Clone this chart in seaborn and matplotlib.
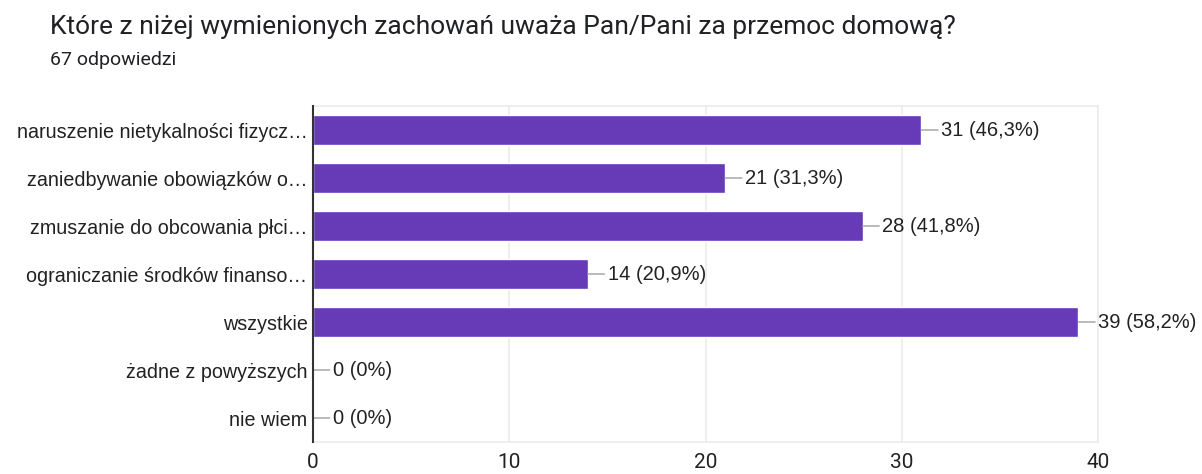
import matplotlib
matplotlib.use("Agg")
import matplotlib.pyplot as plt
import seaborn as sns
import pandas as pd

categories = [
    "naruszenie nietykalności fizycz…",
    "zaniedbywanie obowiązków o…",
    "zmuszanie do obcowania płci…",
    "ograniczanie środków finanso…",
    "wszystkie",
    "żadne z powyższych",
    "nie wiem",
]
counts = [31, 21, 28, 14, 39, 0, 0]
percent_labels = ["46,3%", "31,3%", "41,8%", "20,9%", "58,2%", "0%", "0%"]
xticks = [0, 10, 20, 30, 40]

title = "Które z niżej wymienionych zachowań uważa Pan/Pani za przemoc domową?"
subtitle = "67 odpowiedzi"

sns.set_theme(style="white")
plt.rcParams["font.family"] = ["Liberation Sans", "DejaVu Sans"]

df = pd.DataFrame({"cat": categories, "n": counts})

fig = plt.figure(figsize=(12.02, 4.74), dpi=100)
ax = fig.add_axes([313 / 1202, 1 - 442 / 474, (1098 - 313) / 1202, (442 - 106) / 474])

sns.barplot(data=df, x="n", y="cat", color="#673AB7", saturation=1, width=0.62, ax=ax, zorder=3)

ax.set_xlim(0, 40)
ax.set_ylim(6.5, -0.5)
ax.set_xticks(xticks)
ax.set_xticklabels([str(t) for t in xticks], fontsize=15, color="#222222",
                   family="Roboto")
ax.tick_params(axis="x", length=0, pad=8)
ax.tick_params(axis="y", length=0, pad=4, labelsize=14.2, labelcolor="#222222")
ax.set_xlabel("")
ax.set_ylabel("")
ax.grid(axis="x", color="#ebebeb", linewidth=1.2, zorder=0)
for s in ["top", "right", "bottom"]:
    ax.spines[s].set_color("#ebebeb")
    ax.spines[s].set_linewidth(1.2)
ax.spines["left"].set_color("#333333")
ax.spines["left"].set_linewidth(1.5)
ax.spines["left"].set_zorder(5)

for i, (v, p) in enumerate(zip(counts, percent_labels)):
    ax.annotate(f"{v} ({p})", xy=(v, i), xytext=(20, 0), textcoords="offset pixels",
                va="center", ha="left", fontsize=14.5, color="#222222",
                arrowprops=dict(arrowstyle="-", color="#9e9e9e", lw=1,
                                shrinkA=0, shrinkB=0),
                annotation_clip=False)

fig.text(50 / 1202, 1 - 27 / 474, title, fontsize=19, color="#202124",
         family="Roboto", va="center", ha="left")
fig.text(50 / 1202, 1 - 60 / 474, subtitle, fontsize=14, color="#202124",
         family="Roboto", va="center", ha="left")

fig.savefig("out.png", dpi=100, facecolor="white")
